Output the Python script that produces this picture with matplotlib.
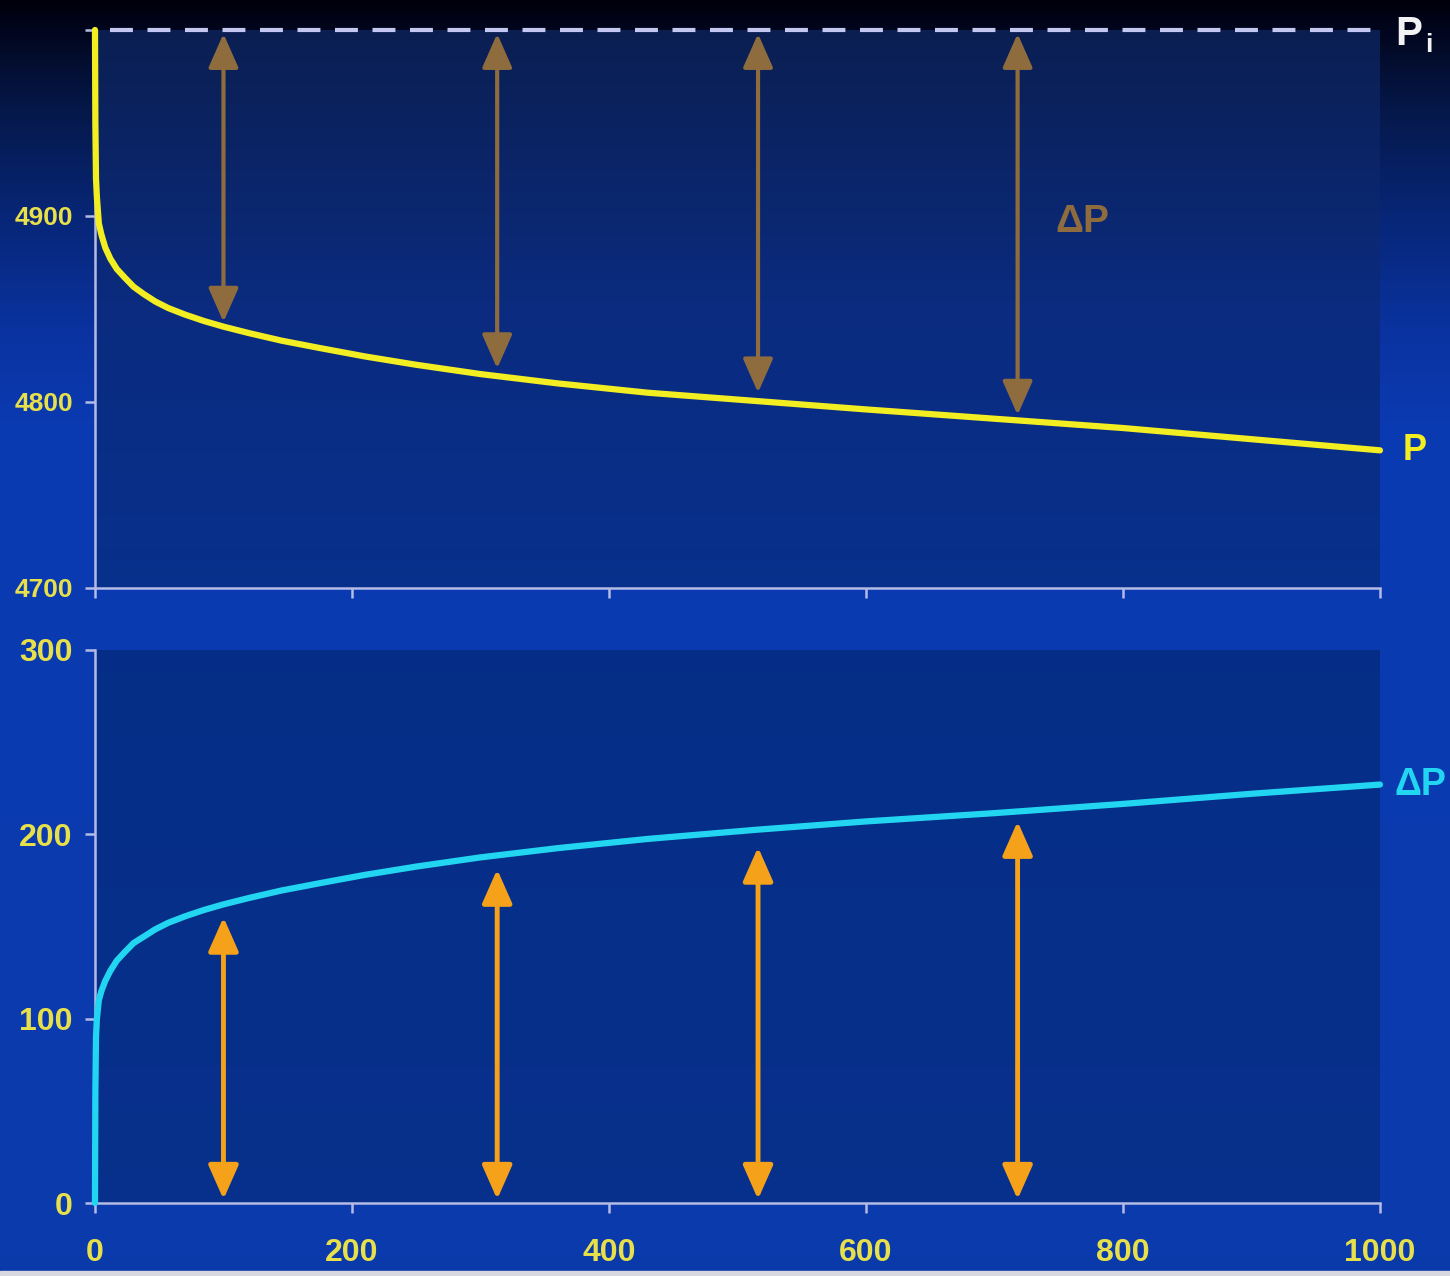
import numpy as np
import matplotlib.pyplot as plt
from matplotlib.colors import LinearSegmentedColormap

plt.rcParams['font.family'] = ['Liberation Sans', 'DejaVu Sans']
plt.rcParams['font.weight'] = 'bold'

# Drawdown test: elapsed time, pressure and pressure drop
P_INITIAL = 5000
elapsed = [0, 0.3, 0.8, 1.5, 3, 5, 8, 12, 17, 23, 30, 38, 47, 57, 70, 85,
           100, 120, 145, 175, 210, 250, 300, 360, 430, 515, 600, 700, 800,
           900, 1000]
pressure = [5000, 4950, 4920, 4910, 4896, 4890, 4883, 4877, 4871.5, 4867,
            4862, 4858, 4854, 4850.5, 4847, 4843.5, 4840.5, 4837, 4833, 4829,
            4824.5, 4820, 4815, 4810, 4805, 4800.5, 4796, 4791, 4786, 4780,
            4774]
delta_p = [0, 60, 90, 100, 110, 115, 120.5, 126, 131.5, 136, 141, 144.5,
           148.5, 152, 155.5, 159, 162, 165.5, 169.5, 173.5, 178, 182.5,
           187.5, 192.5, 197.5, 202.5, 207, 211.5, 216.5, 222, 227]

# Double arrows showing the pressure drop at a few times
arrow_times = [100, 313, 516, 718]
arrow_p_low = [4843, 4818, 4805, 4793]
arrow_dp_high = [155, 181, 193, 207]

p_ticks = [4700, 4800, 4900, 5000]
p_ticklabels = ['4700', '4800', '4900', '']
dp_ticks = [0, 100, 200, 300]
t_ticks = [0, 200, 400, 600, 800, 1000]

YELLOW = '#f2ee22'
CYAN = '#22d6f2'
BROWN = '#8e6c3e'
ORANGE = '#f5a21a'
SPINE = '#b4bbe6'
TICKTXT = '#e8e04a'

fig = plt.figure(figsize=(14.5, 12.76), dpi=100)

# background gradient over the whole figure
bg = fig.add_axes([0, 0, 1, 1], zorder=-10)
bg_cmap = LinearSegmentedColormap.from_list('bg', [
    (0.00, (0.0, 0.0, 0.05)),
    (0.08, (0.02, 0.09, 0.28)),
    (0.17, (0.03, 0.15, 0.47)),
    (0.26, (0.04, 0.20, 0.63)),
    (0.34, (0.04, 0.23, 0.70)),
    (1.00, (0.04, 0.23, 0.67)),
])
bg.imshow(np.linspace(0, 1, 256).reshape(-1, 1), cmap=bg_cmap, aspect='auto',
          extent=[0, 1, 0, 1], origin='upper')
bg.set_axis_off()
bg.add_patch(plt.Rectangle((0, 0), 1, 5 / 1276, color='#d8d8e0', zorder=5))

ax_p = fig.add_axes([0.0655, 0.5392, 0.8862, 0.4373])
ax_dp = fig.add_axes([0.0655, 0.0572, 0.8862, 0.4334])

top_cmap = LinearSegmentedColormap.from_list('top', [
    (0.0, (0.04, 0.12, 0.32)),
    (0.5, (0.04, 0.17, 0.50)),
    (1.0, (0.03, 0.19, 0.55)),
])
low_cmap = LinearSegmentedColormap.from_list('low', [
    (0.0, (0.02, 0.18, 0.53)),
    (1.0, (0.03, 0.19, 0.55)),
])
for ax, cmap in ((ax_p, top_cmap), (ax_dp, low_cmap)):
    ax.set_facecolor('none')
    ax.imshow(np.linspace(0, 1, 256).reshape(-1, 1), cmap=cmap, aspect='auto',
              extent=[0, 1, 0, 1], origin='upper', transform=ax.transAxes,
              zorder=-5)
    for side in ('top', 'right'):
        ax.spines[side].set_visible(False)
    for side in ('left', 'bottom'):
        ax.spines[side].set_color(SPINE)
        ax.spines[side].set_linewidth(1.8)
    ax.tick_params(colors=SPINE, width=1.8, length=7, labelcolor=TICKTXT)
    ax.tick_params(axis='y', pad=9)
    ax.set_xlim(0, 1000)
    ax.set_xticks(t_ticks)

arrow_style = '<|-|>,head_length=0.95,head_width=0.42'

# upper panel: pressure
ax_p.set_ylim(4700, 5000)
ax_p.set_yticks(p_ticks)
ax_p.set_yticklabels(p_ticklabels, fontsize=19)
ax_p.set_xticklabels([])
ax_p.axhline(P_INITIAL, xmin=0.012, color='#c4c8f0', lw=3, dashes=(5.5, 3.5),
             clip_on=False, zorder=3)
ax_p.plot(elapsed, pressure, color=YELLOW, lw=4.5, solid_capstyle='round',
          solid_joinstyle='round', clip_on=False, zorder=4)
for t, low in zip(arrow_times, arrow_p_low):
    ax_p.annotate('', xy=(t, low), xytext=(t, P_INITIAL - 2),
                  arrowprops=dict(arrowstyle=arrow_style, color=BROWN, lw=3,
                                  mutation_scale=22, shrinkA=0, shrinkB=0))
ax_p.text(768, 4897, '\u0394P', color=BROWN, fontsize=28, fontweight='bold',
          ha='center', va='center')
ax_p.annotate('P', xy=(1000, pressure[-1]), xytext=(25, 0),
              textcoords='offset points', color=YELLOW, fontsize=26,
              fontweight='bold', ha='center', va='center',
              annotation_clip=False)
ax_p.annotate('P', xy=(1000, P_INITIAL), xytext=(21, -3),
              textcoords='offset points', color='#f2f2f2', fontsize=29,
              fontweight='bold', ha='center', va='center',
              annotation_clip=False)
ax_p.annotate('i', xy=(1000, P_INITIAL), xytext=(35, -11),
              textcoords='offset points', color='#f2f2f2', fontsize=19,
              fontweight='bold', ha='center', va='center',
              annotation_clip=False)

# lower panel: pressure drop
ax_dp.set_ylim(0, 300)
ax_dp.set_yticks(dp_ticks)
ax_dp.set_yticklabels([str(v) for v in dp_ticks], fontsize=23)
ax_dp.set_xticklabels([str(v) for v in t_ticks], fontsize=23)
ax_dp.tick_params(axis='x', pad=18)
ax_dp.plot(elapsed, delta_p, color=CYAN, lw=4.5, solid_capstyle='round',
           solid_joinstyle='round', clip_on=False, zorder=4)
for t, high in zip(arrow_times, arrow_dp_high):
    ax_dp.annotate('', xy=(t, high), xytext=(t, 2),
                   arrowprops=dict(arrowstyle=arrow_style, color=ORANGE, lw=3.5,
                                   mutation_scale=22, shrinkA=0, shrinkB=0))
ax_dp.annotate('\u0394P', xy=(1000, delta_p[-1]), xytext=(29, 0),
               textcoords='offset points', color=CYAN, fontsize=27,
               fontweight='bold', ha='center', va='center',
               annotation_clip=False)

fig.savefig('out.png', dpi=100)
